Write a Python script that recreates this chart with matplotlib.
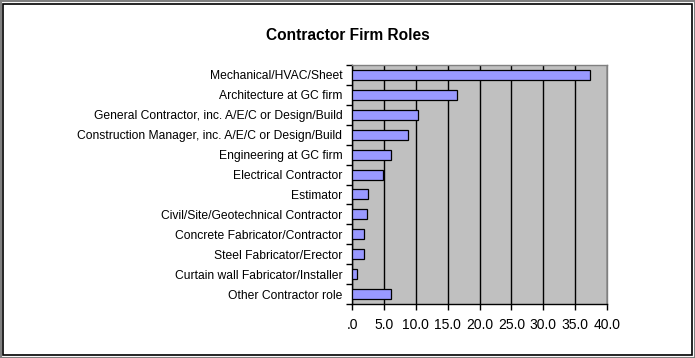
import matplotlib
matplotlib.use('Agg')
import matplotlib.pyplot as plt
from matplotlib.patches import Rectangle

plt.rcParams['font.family'] = ['Liberation Sans', 'DejaVu Sans']

roles = ['Mechanical/HVAC/Sheet', 'Architecture at GC firm',
         'General Contractor, inc. A/E/C or Design/Build',
         'Construction Manager, inc. A/E/C or Design/Build',
         'Engineering at GC firm', 'Electrical Contractor', 'Estimator',
         'Civil/Site/Geotechnical Contractor', 'Concrete Fabricator/Contractor',
         'Steel Fabricator/Erector', 'Curtain wall Fabricator/Installer',
         'Other Contractor role']
values = [37.3, 16.5, 10.4, 8.8, 6.1, 4.9, 2.5, 2.4, 1.9, 1.9, 0.8, 6.1]
xticks = [0, 5, 10, 15, 20, 25, 30, 35, 40]
xlabels = ['.0', '5.0', '10.0', '15.0', '20.0', '25.0', '30.0', '35.0', '40.0']

fig = plt.figure(figsize=(6.95, 3.58), dpi=100)
fig.patch.set_facecolor('white')

# outer frame: gray edge + black inner line
fig.patches.append(Rectangle((0.5 / 695, 0.5 / 358), 1 - 1 / 695, 1 - 1 / 358,
                             transform=fig.transFigure, fill=False,
                             edgecolor='#808080', lw=1.5))
fig.patches.append(Rectangle((3 / 695, 3.5 / 358), 1 - 6.5 / 695, 1 - 7 / 358,
                             transform=fig.transFigure, fill=False,
                             edgecolor='black', lw=1.2))

ax = fig.add_axes([352 / 695, 1 - 304 / 358, 255 / 695, 239 / 358])
ax.set_facecolor('#C0C0C0')

ypos = list(range(len(roles)))
ax.barh(ypos, values, height=0.5, color='#9999FF', edgecolor='black', lw=0.9, zorder=3)
ax.set_ylim(len(roles) - 0.5, -0.5)
ax.set_xlim(0, 40)

ax.set_xticks(xticks)
ax.set_xticklabels(xlabels, fontsize=10)
ax.xaxis.grid(True, color='black', lw=1.0)
ax.set_axisbelow(True)
ax.tick_params(axis='x', direction='out', length=4, width=1, pad=6)

ax.set_yticks(ypos)
ax.set_yticklabels(roles, fontsize=8.7)
ax.set_yticks([i - 0.5 for i in range(len(roles) + 1)], minor=True)
ax.tick_params(axis='y', which='major', length=0, pad=7)
ax.tick_params(axis='y', which='minor', direction='out', length=4, width=1)

for s in ['top', 'right']:
    ax.spines[s].set_color('#808080')
    ax.spines[s].set_linewidth(1.0)
ax.spines['left'].set_linewidth(1.0)
ax.spines['bottom'].set_linewidth(1.0)

fig.text(0.5, 1 - 36 / 358, 'Contractor Firm Roles', ha='center', va='center',
         fontsize=11.2, fontweight='bold')

fig.savefig('out.png', dpi=100)
